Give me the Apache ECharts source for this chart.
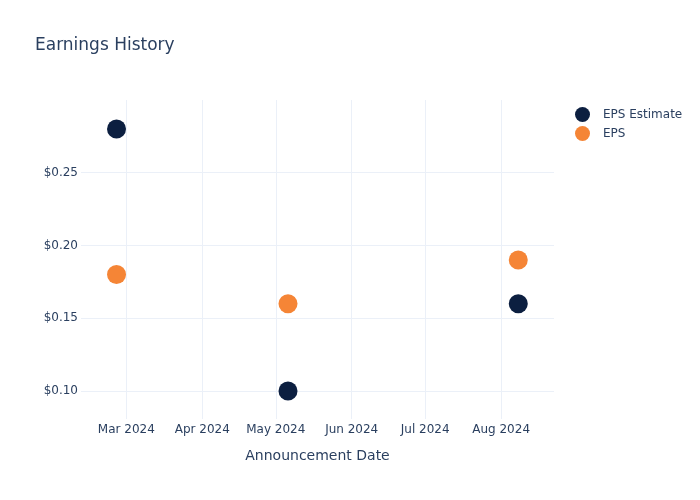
<!DOCTYPE html>
<html>
<head>
<meta charset="utf-8">
<script src="https://cdn.jsdelivr.net/npm/echarts@6/dist/echarts.min.js"></script>
<style>html,body{margin:0;padding:0;background:#fff}#c{width:700px;height:500px}</style>
</head>
<body>
<div id="c"></div>
<script>
var dates = ['2024-02-26', '2024-05-06', '2024-08-08'];
var epsEstimate = [0.28, 0.10, 0.16];
var eps = [0.18, 0.16, 0.19];
var seriesNames = ['EPS Estimate', 'EPS'];
var xRange = ['2024-02-11T12:00:00', '2024-08-22T14:00:00'];
var yRange = [0.0808, 0.2999];

var FONT = 'DejaVu Sans';
var TXT = '#2a3f5f';
var GRID = '#ebf0f8';
var MONTH = ['Jan','Feb','Mar','Apr','May','Jun','Jul','Aug','Sep','Oct','Nov','Dec'];

function pairs(vals) {
  return dates.map(function (d, i) { return [d, vals[i]]; });
}

var chart = echarts.init(document.getElementById('c'), null, {renderer: 'canvas'});
chart.setOption({
  animation: false,
  backgroundColor: '#ffffff',
  textStyle: {fontFamily: FONT},
  title: {
    text: 'Earnings History',
    left: 35, top: 37, padding: 0,
    textStyle: {fontFamily: FONT, fontSize: 17, fontWeight: 'normal', color: TXT}
  },
  legend: {
    orient: 'vertical',
    left: 575, top: 107, padding: 0,
    itemWidth: 15, itemHeight: 15, itemGap: 4,
    icon: 'circle',
    textStyle: {fontFamily: FONT, fontSize: 12, color: TXT, padding: [0, 0, 0, 8]},
    data: seriesNames
  },
  grid: {left: 81, right: 146, top: 100, bottom: 81, containLabel: false},
  xAxis: {
    type: 'time',
    min: xRange[0], max: xRange[1],
    minInterval: 28 * 24 * 3600 * 1000,
    maxInterval: 31 * 24 * 3600 * 1000,
    name: 'Announcement Date',
    nameLocation: 'middle',
    nameGap: 30,
    nameTextStyle: {fontFamily: FONT, fontSize: 14, color: TXT},
    axisLine: {show: false},
    axisTick: {show: false},
    axisLabel: {
      fontFamily: FONT, fontSize: 12, color: TXT, margin: 5,
      showMinLabel: false, showMaxLabel: false,
      formatter: function (v) { var d = new Date(v); return MONTH[d.getMonth()] + ' ' + d.getFullYear(); }
    },
    splitLine: {show: true, showMinLine: false, showMaxLine: false, lineStyle: {color: GRID, width: 1}}
  },
  yAxis: {
    type: 'value',
    min: yRange[0], max: yRange[1],
    splitNumber: 5,
    axisLine: {show: false},
    axisTick: {show: false},
    axisLabel: {
      fontFamily: FONT, fontSize: 12, color: TXT, margin: 3,
      showMinLabel: false, showMaxLabel: false,
      formatter: function (v) { return '$' + v.toFixed(2); }
    },
    splitLine: {show: true, showMinLine: false, showMaxLine: false, lineStyle: {color: GRID, width: 1}}
  },
  series: [
    {
      name: seriesNames[0], type: 'scatter', symbol: 'circle', symbolSize: 19,
      itemStyle: {color: '#0c1f40', opacity: 1},
      data: pairs(epsEstimate)
    },
    {
      name: seriesNames[1], type: 'scatter', symbol: 'circle', symbolSize: 19,
      itemStyle: {color: '#f58536', opacity: 1},
      data: pairs(eps)
    }
  ]
});
</script>
</body>
</html>
